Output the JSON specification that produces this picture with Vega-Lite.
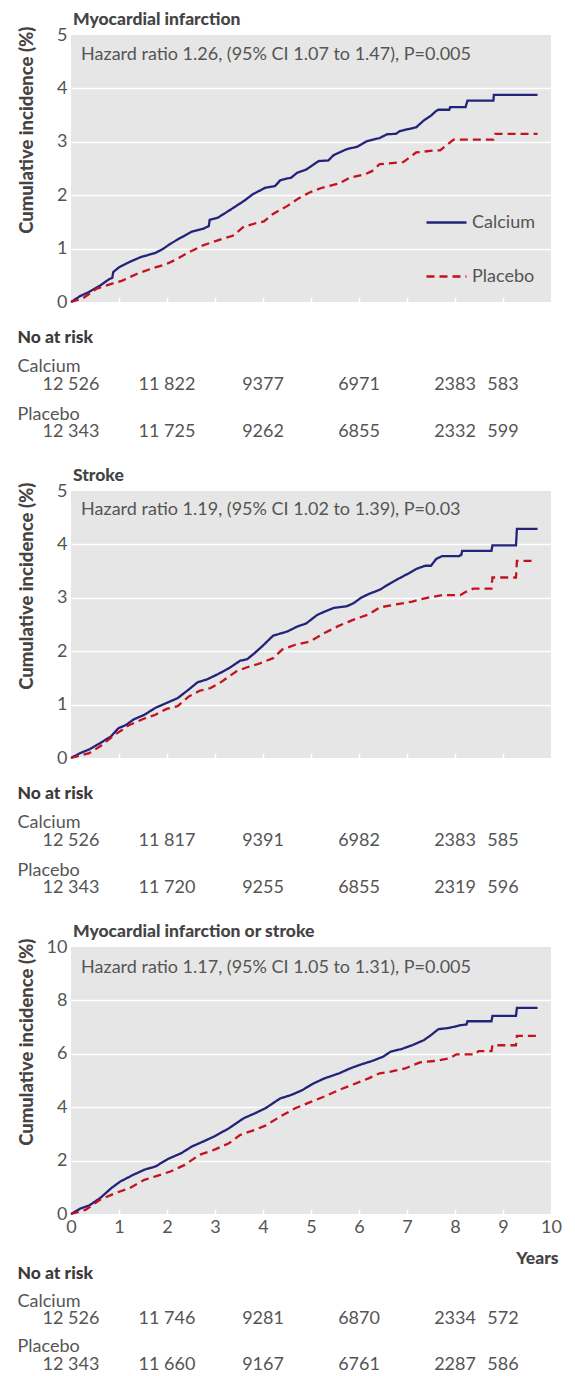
{
"$schema": "https://vega.github.io/schema/vega-lite/v6.json",
"background": "white",
"padding": {"left": 16, "top": 10, "right": 5, "bottom": 0},
"spacing": 0,
"bounds": "flush",
"config": {"font": "Lato", "view": {"stroke": null}},
"resolve": {"scale": {"x": "independent", "y": "independent", "color": "independent", "strokeDash": "independent"}},
"datasets": {
"mi": [
{"group":"Calcium","year":0,"pct":0},{"group":"Calcium","year":0.19,"pct":0.11},{"group":"Calcium","year":0.38,"pct":0.19},{"group":"Calcium","year":0.61,"pct":0.31},{"group":"Calcium","year":0.8,"pct":0.43},{"group":"Calcium","year":0.86,"pct":0.45},{"group":"Calcium","year":0.88,"pct":0.56},{"group":"Calcium","year":1.0,"pct":0.65},{"group":"Calcium","year":1.22,"pct":0.75},{"group":"Calcium","year":1.45,"pct":0.84},{"group":"Calcium","year":1.76,"pct":0.92},{"group":"Calcium","year":1.91,"pct":0.99},{"group":"Calcium","year":2.07,"pct":1.09},{"group":"Calcium","year":2.3,"pct":1.21},{"group":"Calcium","year":2.52,"pct":1.32},{"group":"Calcium","year":2.75,"pct":1.37},{"group":"Calcium","year":2.87,"pct":1.42},{"group":"Calcium","year":2.89,"pct":1.54},{"group":"Calcium","year":3.06,"pct":1.58},{"group":"Calcium","year":3.29,"pct":1.71},{"group":"Calcium","year":3.6,"pct":1.89},{"group":"Calcium","year":3.79,"pct":2.02},{"group":"Calcium","year":4.05,"pct":2.14},{"group":"Calcium","year":4.25,"pct":2.17},{"group":"Calcium","year":4.36,"pct":2.28},{"group":"Calcium","year":4.59,"pct":2.33},{"group":"Calcium","year":4.71,"pct":2.42},{"group":"Calcium","year":4.9,"pct":2.48},{"group":"Calcium","year":5.16,"pct":2.64},{"group":"Calcium","year":5.36,"pct":2.65},{"group":"Calcium","year":5.47,"pct":2.75},{"group":"Calcium","year":5.74,"pct":2.86},{"group":"Calcium","year":5.97,"pct":2.91},{"group":"Calcium","year":6.16,"pct":3.01},{"group":"Calcium","year":6.43,"pct":3.07},{"group":"Calcium","year":6.58,"pct":3.14},{"group":"Calcium","year":6.77,"pct":3.15},{"group":"Calcium","year":6.85,"pct":3.2},{"group":"Calcium","year":7.04,"pct":3.24},{"group":"Calcium","year":7.19,"pct":3.27},{"group":"Calcium","year":7.35,"pct":3.4},{"group":"Calcium","year":7.5,"pct":3.49},{"group":"Calcium","year":7.61,"pct":3.58},{"group":"Calcium","year":7.65,"pct":3.6},{"group":"Calcium","year":7.88,"pct":3.6},{"group":"Calcium","year":7.9,"pct":3.65},{"group":"Calcium","year":8.22,"pct":3.65},{"group":"Calcium","year":8.26,"pct":3.77},{"group":"Calcium","year":8.8,"pct":3.77},{"group":"Calcium","year":8.81,"pct":3.88},{"group":"Calcium","year":9.72,"pct":3.88},
{"group":"Placebo","year":0,"pct":0},{"group":"Placebo","year":0.23,"pct":0.06},{"group":"Placebo","year":0.54,"pct":0.25},{"group":"Placebo","year":0.84,"pct":0.34},{"group":"Placebo","year":1.07,"pct":0.4},{"group":"Placebo","year":1.38,"pct":0.53},{"group":"Placebo","year":1.76,"pct":0.65},{"group":"Placebo","year":1.99,"pct":0.71},{"group":"Placebo","year":2.22,"pct":0.81},{"group":"Placebo","year":2.45,"pct":0.93},{"group":"Placebo","year":2.75,"pct":1.06},{"group":"Placebo","year":3.14,"pct":1.18},{"group":"Placebo","year":3.37,"pct":1.24},{"group":"Placebo","year":3.6,"pct":1.41},{"group":"Placebo","year":3.83,"pct":1.47},{"group":"Placebo","year":4.02,"pct":1.51},{"group":"Placebo","year":4.21,"pct":1.65},{"group":"Placebo","year":4.51,"pct":1.8},{"group":"Placebo","year":4.74,"pct":1.94},{"group":"Placebo","year":4.97,"pct":2.05},{"group":"Placebo","year":5.2,"pct":2.13},{"group":"Placebo","year":5.59,"pct":2.22},{"group":"Placebo","year":5.81,"pct":2.33},{"group":"Placebo","year":6.12,"pct":2.39},{"group":"Placebo","year":6.27,"pct":2.45},{"group":"Placebo","year":6.43,"pct":2.58},{"group":"Placebo","year":6.92,"pct":2.62},{"group":"Placebo","year":7.0,"pct":2.67},{"group":"Placebo","year":7.19,"pct":2.8},{"group":"Placebo","year":7.57,"pct":2.84},{"group":"Placebo","year":7.69,"pct":2.84},{"group":"Placebo","year":7.8,"pct":2.92},{"group":"Placebo","year":7.97,"pct":3.04},{"group":"Placebo","year":8.8,"pct":3.04},{"group":"Placebo","year":8.84,"pct":3.15},{"group":"Placebo","year":9.72,"pct":3.15}
],
"stroke": [
{"group":"Calcium","year":0,"pct":0},{"group":"Calcium","year":0.19,"pct":0.09},{"group":"Calcium","year":0.38,"pct":0.16},{"group":"Calcium","year":0.61,"pct":0.28},{"group":"Calcium","year":0.84,"pct":0.41},{"group":"Calcium","year":0.99,"pct":0.56},{"group":"Calcium","year":1.15,"pct":0.62},{"group":"Calcium","year":1.3,"pct":0.72},{"group":"Calcium","year":1.53,"pct":0.81},{"group":"Calcium","year":1.76,"pct":0.94},{"group":"Calcium","year":1.99,"pct":1.03},{"group":"Calcium","year":2.22,"pct":1.12},{"group":"Calcium","year":2.45,"pct":1.28},{"group":"Calcium","year":2.64,"pct":1.42},{"group":"Calcium","year":2.83,"pct":1.47},{"group":"Calcium","year":3.06,"pct":1.57},{"group":"Calcium","year":3.29,"pct":1.68},{"group":"Calcium","year":3.52,"pct":1.82},{"group":"Calcium","year":3.67,"pct":1.85},{"group":"Calcium","year":3.82,"pct":1.96},{"group":"Calcium","year":3.98,"pct":2.09},{"group":"Calcium","year":4.21,"pct":2.29},{"group":"Calcium","year":4.51,"pct":2.37},{"group":"Calcium","year":4.71,"pct":2.46},{"group":"Calcium","year":4.9,"pct":2.52},{"group":"Calcium","year":5.13,"pct":2.68},{"group":"Calcium","year":5.28,"pct":2.74},{"group":"Calcium","year":5.47,"pct":2.81},{"group":"Calcium","year":5.74,"pct":2.84},{"group":"Calcium","year":5.89,"pct":2.9},{"group":"Calcium","year":6.04,"pct":3.0},{"group":"Calcium","year":6.2,"pct":3.07},{"group":"Calcium","year":6.43,"pct":3.15},{"group":"Calcium","year":6.65,"pct":3.27},{"group":"Calcium","year":6.89,"pct":3.39},{"group":"Calcium","year":7.04,"pct":3.46},{"group":"Calcium","year":7.19,"pct":3.54},{"group":"Calcium","year":7.38,"pct":3.6},{"group":"Calcium","year":7.5,"pct":3.6},{"group":"Calcium","year":7.61,"pct":3.73},{"group":"Calcium","year":7.73,"pct":3.78},{"group":"Calcium","year":8.09,"pct":3.78},{"group":"Calcium","year":8.11,"pct":3.8},{"group":"Calcium","year":8.13,"pct":3.8},{"group":"Calcium","year":8.15,"pct":3.88},{"group":"Calcium","year":8.76,"pct":3.88},{"group":"Calcium","year":8.78,"pct":3.98},{"group":"Calcium","year":9.27,"pct":3.98},{"group":"Calcium","year":9.29,"pct":4.29},{"group":"Calcium","year":9.72,"pct":4.29},
{"group":"Placebo","year":0,"pct":0},{"group":"Placebo","year":0.38,"pct":0.09},{"group":"Placebo","year":0.61,"pct":0.22},{"group":"Placebo","year":0.92,"pct":0.44},{"group":"Placebo","year":1.22,"pct":0.62},{"group":"Placebo","year":1.53,"pct":0.74},{"group":"Placebo","year":1.76,"pct":0.81},{"group":"Placebo","year":1.99,"pct":0.92},{"group":"Placebo","year":2.22,"pct":0.97},{"group":"Placebo","year":2.45,"pct":1.15},{"group":"Placebo","year":2.68,"pct":1.26},{"group":"Placebo","year":2.91,"pct":1.31},{"group":"Placebo","year":3.14,"pct":1.43},{"group":"Placebo","year":3.44,"pct":1.62},{"group":"Placebo","year":3.67,"pct":1.7},{"group":"Placebo","year":3.9,"pct":1.76},{"group":"Placebo","year":4.21,"pct":1.87},{"group":"Placebo","year":4.4,"pct":2.03},{"group":"Placebo","year":4.67,"pct":2.12},{"group":"Placebo","year":4.97,"pct":2.18},{"group":"Placebo","year":5.28,"pct":2.34},{"group":"Placebo","year":5.59,"pct":2.48},{"group":"Placebo","year":5.89,"pct":2.59},{"group":"Placebo","year":6.2,"pct":2.69},{"group":"Placebo","year":6.43,"pct":2.82},{"group":"Placebo","year":6.73,"pct":2.87},{"group":"Placebo","year":7.11,"pct":2.93},{"group":"Placebo","year":7.42,"pct":3.0},{"group":"Placebo","year":7.73,"pct":3.05},{"group":"Placebo","year":8.11,"pct":3.05},{"group":"Placebo","year":8.2,"pct":3.1},{"group":"Placebo","year":8.38,"pct":3.17},{"group":"Placebo","year":8.76,"pct":3.17},{"group":"Placebo","year":8.78,"pct":3.38},{"group":"Placebo","year":9.27,"pct":3.38},{"group":"Placebo","year":9.29,"pct":3.69},{"group":"Placebo","year":9.7,"pct":3.69}
],
"both": [
{"group":"Calcium","year":0,"pct":0},{"group":"Calcium","year":0.19,"pct":0.2},{"group":"Calcium","year":0.38,"pct":0.32},{"group":"Calcium","year":0.61,"pct":0.6},{"group":"Calcium","year":0.84,"pct":0.97},{"group":"Calcium","year":1.03,"pct":1.22},{"group":"Calcium","year":1.3,"pct":1.47},{"group":"Calcium","year":1.53,"pct":1.66},{"group":"Calcium","year":1.76,"pct":1.78},{"group":"Calcium","year":2.03,"pct":2.07},{"group":"Calcium","year":2.3,"pct":2.28},{"group":"Calcium","year":2.52,"pct":2.53},{"group":"Calcium","year":2.75,"pct":2.71},{"group":"Calcium","year":2.98,"pct":2.9},{"group":"Calcium","year":3.29,"pct":3.21},{"group":"Calcium","year":3.6,"pct":3.59},{"group":"Calcium","year":3.83,"pct":3.77},{"group":"Calcium","year":4.05,"pct":3.96},{"group":"Calcium","year":4.36,"pct":4.33},{"group":"Calcium","year":4.59,"pct":4.46},{"group":"Calcium","year":4.82,"pct":4.64},{"group":"Calcium","year":5.05,"pct":4.89},{"group":"Calcium","year":5.28,"pct":5.08},{"group":"Calcium","year":5.59,"pct":5.27},{"group":"Calcium","year":5.81,"pct":5.45},{"group":"Calcium","year":6.04,"pct":5.6},{"group":"Calcium","year":6.27,"pct":5.73},{"group":"Calcium","year":6.5,"pct":5.89},{"group":"Calcium","year":6.66,"pct":6.08},{"group":"Calcium","year":6.89,"pct":6.18},{"group":"Calcium","year":7.12,"pct":6.33},{"group":"Calcium","year":7.35,"pct":6.51},{"group":"Calcium","year":7.5,"pct":6.7},{"group":"Calcium","year":7.65,"pct":6.92},{"group":"Calcium","year":7.88,"pct":6.97},{"group":"Calcium","year":8.11,"pct":7.07},{"group":"Calcium","year":8.24,"pct":7.1},{"group":"Calcium","year":8.26,"pct":7.22},{"group":"Calcium","year":8.76,"pct":7.22},{"group":"Calcium","year":8.78,"pct":7.42},{"group":"Calcium","year":9.27,"pct":7.42},{"group":"Calcium","year":9.29,"pct":7.72},{"group":"Calcium","year":9.72,"pct":7.72},
{"group":"Placebo","year":0,"pct":0},{"group":"Placebo","year":0.31,"pct":0.16},{"group":"Placebo","year":0.61,"pct":0.54},{"group":"Placebo","year":0.92,"pct":0.78},{"group":"Placebo","year":1.22,"pct":0.97},{"group":"Placebo","year":1.53,"pct":1.28},{"group":"Placebo","year":1.76,"pct":1.41},{"group":"Placebo","year":2.07,"pct":1.59},{"group":"Placebo","year":2.37,"pct":1.84},{"group":"Placebo","year":2.68,"pct":2.22},{"group":"Placebo","year":2.98,"pct":2.4},{"group":"Placebo","year":3.29,"pct":2.65},{"group":"Placebo","year":3.52,"pct":2.96},{"group":"Placebo","year":3.83,"pct":3.15},{"group":"Placebo","year":4.05,"pct":3.31},{"group":"Placebo","year":4.36,"pct":3.65},{"group":"Placebo","year":4.67,"pct":3.96},{"group":"Placebo","year":4.97,"pct":4.18},{"group":"Placebo","year":5.28,"pct":4.4},{"group":"Placebo","year":5.59,"pct":4.65},{"group":"Placebo","year":5.89,"pct":4.86},{"group":"Placebo","year":6.2,"pct":5.08},{"group":"Placebo","year":6.43,"pct":5.27},{"group":"Placebo","year":6.66,"pct":5.33},{"group":"Placebo","year":6.96,"pct":5.45},{"group":"Placebo","year":7.27,"pct":5.68},{"group":"Placebo","year":7.57,"pct":5.73},{"group":"Placebo","year":7.88,"pct":5.83},{"group":"Placebo","year":8.03,"pct":5.98},{"group":"Placebo","year":8.42,"pct":5.98},{"group":"Placebo","year":8.49,"pct":6.1},{"group":"Placebo","year":8.76,"pct":6.1},{"group":"Placebo","year":8.78,"pct":6.32},{"group":"Placebo","year":9.27,"pct":6.32},{"group":"Placebo","year":9.29,"pct":6.67},{"group":"Placebo","year":9.72,"pct":6.67}
],
"risk_mi": [
{"group":"Calcium","year":0,"n":"12 526"},{"group":"Calcium","year":2,"n":"11 822"},{"group":"Calcium","year":4,"n":"9377"},{"group":"Calcium","year":6,"n":"6971"},{"group":"Calcium","year":8,"n":"2383"},{"group":"Calcium","year":9,"n":"583"},
{"group":"Placebo","year":0,"n":"12 343"},{"group":"Placebo","year":2,"n":"11 725"},{"group":"Placebo","year":4,"n":"9262"},{"group":"Placebo","year":6,"n":"6855"},{"group":"Placebo","year":8,"n":"2332"},{"group":"Placebo","year":9,"n":"599"}
],
"risk_stroke": [
{"group":"Calcium","year":0,"n":"12 526"},{"group":"Calcium","year":2,"n":"11 817"},{"group":"Calcium","year":4,"n":"9391"},{"group":"Calcium","year":6,"n":"6982"},{"group":"Calcium","year":8,"n":"2383"},{"group":"Calcium","year":9,"n":"585"},
{"group":"Placebo","year":0,"n":"12 343"},{"group":"Placebo","year":2,"n":"11 720"},{"group":"Placebo","year":4,"n":"9255"},{"group":"Placebo","year":6,"n":"6855"},{"group":"Placebo","year":8,"n":"2319"},{"group":"Placebo","year":9,"n":"596"}
],
"risk_both": [
{"group":"Calcium","year":0,"n":"12 526"},{"group":"Calcium","year":2,"n":"11 746"},{"group":"Calcium","year":4,"n":"9281"},{"group":"Calcium","year":6,"n":"6870"},{"group":"Calcium","year":8,"n":"2334"},{"group":"Calcium","year":9,"n":"572"},
{"group":"Placebo","year":0,"n":"12 343"},{"group":"Placebo","year":2,"n":"11 660"},{"group":"Placebo","year":4,"n":"9167"},{"group":"Placebo","year":6,"n":"6761"},{"group":"Placebo","year":8,"n":"2287"},{"group":"Placebo","year":9,"n":"586"}
]
},
"vconcat": [
{
"width": 480, "height": 267,
"view": {"fill": "#e6e6e6", "stroke": null},
"title": {"text": "Myocardial infarction", "anchor": "start", "frame": "group", "fontSize": 17.5, "fontWeight": 900, "color": "#444", "offset": -2, "dx": 2},
"layer": [
{"data": {"name": "mi"},
"mark": {"type": "line", "strokeWidth": 2.3},
"encoding": {
"x": {"field": "year", "type": "quantitative", "scale": {"domain": [0, 10], "nice": false}, "axis": {"title": null, "labels": false, "domain": false, "grid": false, "values": [1,2,3,4,5,6,7,8,9], "tickColor": "white", "tickSize": -5, "tickWidth": 1.5}},
"y": {"field": "pct", "type": "quantitative", "scale": {"domain": [0, 5], "nice": false}, "axis": {"title": "Cumulative incidence (%)", "values": [0,1,2,3,4,5], "grid": true, "gridColor": {"condition": {"test": "datum.value == 0 || datum.value == 5", "value": "transparent"}, "value": "white"}, "gridWidth": 1.5, "domain": false, "ticks": false, "labelPadding": 4, "labelFontSize": 18, "labelColor": "#555", "titleFontSize": 18.5, "titleFontWeight": 900, "titleColor": "#444", "titleAngle": -90, "titleAlign": "right", "titleBaseline": "middle", "titleX": -45, "titleY": -9}},
"color": {"field": "group", "type": "nominal", "scale": {"domain": ["Calcium", "Placebo"], "range": ["#23237a", "#c4121f"]}, "legend": {"orient": "none", "legendX": 354, "legendY": 166, "title": null, "symbolType": "stroke", "symbolSize": 1600, "symbolStrokeWidth": 2.3, "labelFontSize": 18, "labelColor": "#555", "labelOffset": 4, "rowPadding": 23, "padding": 0}},
"strokeDash": {"field": "group", "type": "nominal", "scale": {"domain": ["Calcium", "Placebo"], "range": [[1, 0], [8, 5]]}, "legend": {"orient": "none", "legendX": 354, "legendY": 166, "title": null, "symbolType": "stroke", "symbolSize": 1600, "symbolStrokeWidth": 2.3, "labelFontSize": 18, "labelColor": "#555", "labelOffset": 4, "rowPadding": 23, "padding": 0}}
}},
{"data": {"values": [{"label": "Hazard ratio 1.26, (95% CI 1.07 to 1.47), P=0.005"}]},
"mark": {"type": "text", "align": "left", "baseline": "middle", "fontSize": 18, "color": "#555"},
"encoding": {"x": {"datum": 0.21, "type": "quantitative"}, "y": {"datum": 4.63, "type": "quantitative"}, "text": {"field": "label"}}}
]
},
{
"width": 480, "height": 189,
"view": {"fill": null, "stroke": null},
"data": {"name": "risk_mi"},
"mark": {"type": "text", "fontSize": 18, "color": "#555", "align": "center", "baseline": "middle"},
"encoding": {
"x": {"field": "year", "type": "quantitative", "scale": {"domain": [0, 10], "nice": false}, "axis": null},
"y": {"field": "group", "type": "nominal", "scale": {"type": "point", "domain": ["No at risk", "Calcium", "Placebo"], "padding": 1.077, "align": 0.378}, "axis": {"title": null, "domain": false, "ticks": false, "grid": false, "labelAlign": "left", "labelBaseline": "middle", "labelPadding": 54, "labelFontSize": {"condition": {"test": "datum.value === 'No at risk'", "value": 17.5}, "value": 18}, "labelColor": {"condition": {"test": "datum.value === 'No at risk'", "value": "#3a3a3a"}, "value": "#555"}, "labelFontWeight": {"condition": {"test": "datum.value === 'No at risk'", "value": 900}, "value": "normal"}, "labelOffset": {"condition": {"test": "datum.value === 'No at risk'", "value": 0}, "value": -18}}},
"text": {"field": "n"}
}
},
{
"width": 480, "height": 267,
"view": {"fill": "#e6e6e6", "stroke": null},
"title": {"text": "Stroke", "anchor": "start", "frame": "group", "fontSize": 17.5, "fontWeight": 900, "color": "#444", "offset": -2, "dx": 2},
"layer": [
{"data": {"name": "stroke"},
"mark": {"type": "line", "strokeWidth": 2.3},
"encoding": {
"x": {"field": "year", "type": "quantitative", "scale": {"domain": [0, 10], "nice": false}, "axis": {"title": null, "labels": false, "domain": false, "grid": false, "values": [1,2,3,4,5,6,7,8,9], "tickColor": "white", "tickSize": -5, "tickWidth": 1.5}},
"y": {"field": "pct", "type": "quantitative", "scale": {"domain": [0, 5], "nice": false}, "axis": {"title": "Cumulative incidence (%)", "values": [0,1,2,3,4,5], "grid": true, "gridColor": {"condition": {"test": "datum.value == 0 || datum.value == 5", "value": "transparent"}, "value": "white"}, "gridWidth": 1.5, "domain": false, "ticks": false, "labelPadding": 4, "labelFontSize": 18, "labelColor": "#555", "titleFontSize": 18.5, "titleFontWeight": 900, "titleColor": "#444", "titleAngle": -90, "titleAlign": "right", "titleBaseline": "middle", "titleX": -45, "titleY": -9}},
"color": {"field": "group", "type": "nominal", "scale": {"domain": ["Calcium", "Placebo"], "range": ["#23237a", "#c4121f"]}, "legend": null},
"strokeDash": {"field": "group", "type": "nominal", "scale": {"domain": ["Calcium", "Placebo"], "range": [[1, 0], [8, 5]]}, "legend": null}
}},
{"data": {"values": [{"label": "Hazard ratio 1.19, (95% CI 1.02 to 1.39), P=0.03"}]},
"mark": {"type": "text", "align": "left", "baseline": "middle", "fontSize": 18, "color": "#555"},
"encoding": {"x": {"datum": 0.21, "type": "quantitative"}, "y": {"datum": 4.64, "type": "quantitative"}, "text": {"field": "label"}}}
]
},
{
"width": 480, "height": 189,
"view": {"fill": null, "stroke": null},
"data": {"name": "risk_stroke"},
"mark": {"type": "text", "fontSize": 18, "color": "#555", "align": "center", "baseline": "middle"},
"encoding": {
"x": {"field": "year", "type": "quantitative", "scale": {"domain": [0, 10], "nice": false}, "axis": null},
"y": {"field": "group", "type": "nominal", "scale": {"type": "point", "domain": ["No at risk", "Calcium", "Placebo"], "padding": 1.077, "align": 0.378}, "axis": {"title": null, "domain": false, "ticks": false, "grid": false, "labelAlign": "left", "labelBaseline": "middle", "labelPadding": 54, "labelFontSize": {"condition": {"test": "datum.value === 'No at risk'", "value": 17.5}, "value": 18}, "labelColor": {"condition": {"test": "datum.value === 'No at risk'", "value": "#3a3a3a"}, "value": "#555"}, "labelFontWeight": {"condition": {"test": "datum.value === 'No at risk'", "value": 900}, "value": "normal"}, "labelOffset": {"condition": {"test": "datum.value === 'No at risk'", "value": 0}, "value": -18}}},
"text": {"field": "n"}
}
},
{
"width": 480, "height": 267,
"view": {"fill": "#e6e6e6", "stroke": null},
"title": {"text": "Myocardial infarction or stroke", "anchor": "start", "frame": "group", "fontSize": 17.5, "fontWeight": 900, "color": "#444", "offset": -2, "dx": 2},
"layer": [
{"data": {"name": "both"},
"mark": {"type": "line", "strokeWidth": 2.3},
"encoding": {
"x": {"field": "year", "type": "quantitative", "scale": {"domain": [0, 10], "nice": false}, "axis": {"title": "Years", "titleFontSize": 17.5, "titleFontWeight": 900, "titleColor": "#444", "titleAlign": "right", "titleAnchor": "end", "titleBaseline": "alphabetic", "titleX": 487, "titleY": 49, "labelFontSize": 18, "labelColor": "#555", "labelPadding": 9, "labelFlush": false, "domain": false, "grid": false, "values": [0,1,2,3,4,5,6,7,8,9,10], "tickColor": "white", "tickSize": -5, "tickWidth": 1.5}},
"y": {"field": "pct", "type": "quantitative", "scale": {"domain": [0, 10], "nice": false}, "axis": {"title": "Cumulative incidence (%)", "values": [0,2,4,6,8,10], "grid": true, "gridColor": {"condition": {"test": "datum.value == 0 || datum.value == 10", "value": "transparent"}, "value": "white"}, "gridWidth": 1.5, "domain": false, "ticks": false, "labelPadding": 4, "labelFontSize": 18, "labelColor": "#555", "titleFontSize": 18.5, "titleFontWeight": 900, "titleColor": "#444", "titleAngle": -90, "titleAlign": "right", "titleBaseline": "middle", "titleX": -45, "titleY": -9}},
"color": {"field": "group", "type": "nominal", "scale": {"domain": ["Calcium", "Placebo"], "range": ["#23237a", "#c4121f"]}, "legend": null},
"strokeDash": {"field": "group", "type": "nominal", "scale": {"domain": ["Calcium", "Placebo"], "range": [[1, 0], [8, 5]]}, "legend": null}
}},
{"data": {"values": [{"label": "Hazard ratio 1.17, (95% CI 1.05 to 1.31), P=0.005"}]},
"mark": {"type": "text", "align": "left", "baseline": "middle", "fontSize": 18, "color": "#555"},
"encoding": {"x": {"datum": 0.21, "type": "quantitative"}, "y": {"datum": 9.2, "type": "quantitative"}, "text": {"field": "label"}}}
]
},
{
"width": 480, "height": 164,
"view": {"fill": null, "stroke": null},
"data": {"name": "risk_both"},
"mark": {"type": "text", "fontSize": 18, "color": "#555", "align": "center", "baseline": "middle"},
"encoding": {
"x": {"field": "year", "type": "quantitative", "scale": {"domain": [0, 10], "nice": false}, "axis": null},
"y": {"field": "group", "type": "nominal", "scale": {"type": "point", "domain": ["No at risk", "Calcium", "Placebo"], "padding": 0.802, "align": 0.82}, "axis": {"title": null, "domain": false, "ticks": false, "grid": false, "labelAlign": "left", "labelBaseline": "middle", "labelPadding": 54, "labelFontSize": {"condition": {"test": "datum.value === 'No at risk'", "value": 17.5}, "value": 18}, "labelColor": {"condition": {"test": "datum.value === 'No at risk'", "value": "#3a3a3a"}, "value": "#555"}, "labelFontWeight": {"condition": {"test": "datum.value === 'No at risk'", "value": 900}, "value": "normal"}, "labelOffset": {"condition": {"test": "datum.value === 'No at risk'", "value": 0}, "value": -18}}},
"text": {"field": "n"}
}
}
]
}
